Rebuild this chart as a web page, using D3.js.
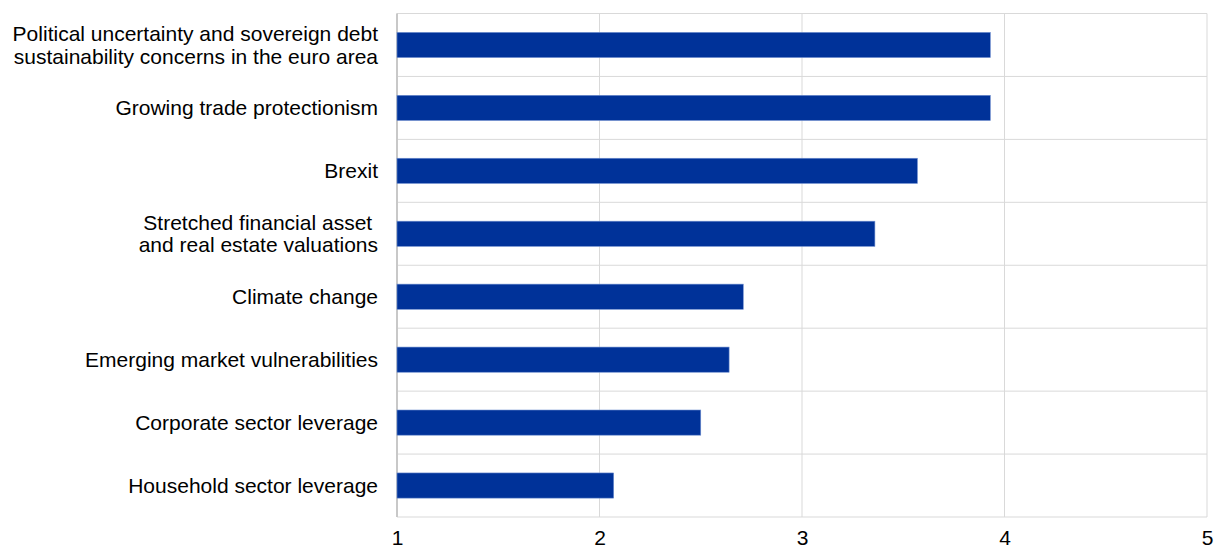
<!DOCTYPE html>
<html>
<head>
<meta charset="utf-8">
<script src="https://cdn.jsdelivr.net/npm/d3@7"></script>
<style>
  body { margin: 0; background: #fff; }
  text { font-family: "Liberation Sans", Arial, sans-serif; fill: #000; }
</style>
</head>
<body>
<svg id="chart" width="1215" height="549"></svg>
<script>
var categories = [
  ["Political uncertainty and sovereign debt", "sustainability concerns in the euro area"],
  ["Growing trade protectionism"],
  ["Brexit"],
  ["Stretched financial asset ", "and real estate valuations"],
  ["Climate change"],
  ["Emerging market vulnerabilities"],
  ["Corporate sector leverage"],
  ["Household sector leverage"]
];
var values = [3.93, 3.93, 3.57, 3.36, 2.71, 2.64, 2.50, 2.07];
var xTicks = [1, 2, 3, 4, 5];

var margin = {top: 13.5, right: 8, bottom: 32, left: 397};
var width = 1215 - margin.left - margin.right;
var height = 549 - margin.top - margin.bottom;

var svg = d3.select("#chart");
var g = svg.append("g").attr("transform", "translate(" + margin.left + "," + margin.top + ")");

var x = d3.scaleLinear().domain([1, 5]).range([0, width]);
var y = d3.scaleBand().domain(d3.range(categories.length)).range([0, height]).paddingInner(0.6).paddingOuter(0.3);

// vertical grid
g.selectAll(".vgrid").data(xTicks).enter().append("line")
  .attr("x1", function(d) { return x(d); })
  .attr("x2", function(d) { return x(d); })
  .attr("y1", 0).attr("y2", height)
  .attr("stroke", "#d9d9d9").attr("stroke-width", 1);

// horizontal grid (row boundaries)
var step = height / categories.length;
g.selectAll(".hgrid").data(d3.range(categories.length + 1)).enter().append("line")
  .attr("x1", 0).attr("x2", width)
  .attr("y1", function(d) { return d * step; })
  .attr("y2", function(d) { return d * step; })
  .attr("stroke", "#d9d9d9").attr("stroke-width", 1);

// left axis line
g.append("line").attr("x1", 0).attr("x2", 0).attr("y1", 0).attr("y2", height)
  .attr("stroke", "#c8c8c8").attr("stroke-width", 2);

// bars
g.selectAll(".bar").data(values).enter().append("rect")
  .attr("x", x(1))
  .attr("y", function(d, i) { return y(i); })
  .attr("width", function(d) { return x(d) - x(1); })
  .attr("height", y.bandwidth())
  .attr("fill", "#003299")
  .attr("stroke", "#6f8fd0")
  .attr("stroke-width", 0.6);

// category labels
var lab = g.selectAll(".lab").data(categories).enter().append("text")
  .attr("text-anchor", "end")
  .attr("font-size", "21px")
  .attr("transform", function(d, i) { return "translate(-19," + (y(i) + y.bandwidth() / 2) + ")"; });
lab.each(function(lines) {
  var t = d3.select(this);
  var lh = 22.5;
  var off = -(lines.length - 1) * lh / 2;
  lines.forEach(function(s, k) {
    t.append("tspan").attr("x", 0).attr("y", off + k * lh).attr("dy", "0.35em").text(s);
  });
});

// x axis labels
var xAxis = d3.axisBottom(x).tickValues(xTicks).tickSize(0).tickPadding(13).tickFormat(d3.format("d"));
var ax = g.append("g").attr("transform", "translate(0," + height + ")").call(xAxis);
ax.select(".domain").remove();
ax.selectAll("text").attr("font-size", "21px").attr("font-family", "Liberation Sans, Arial, sans-serif").attr("fill", "#000");
</script>
</body>
</html>
